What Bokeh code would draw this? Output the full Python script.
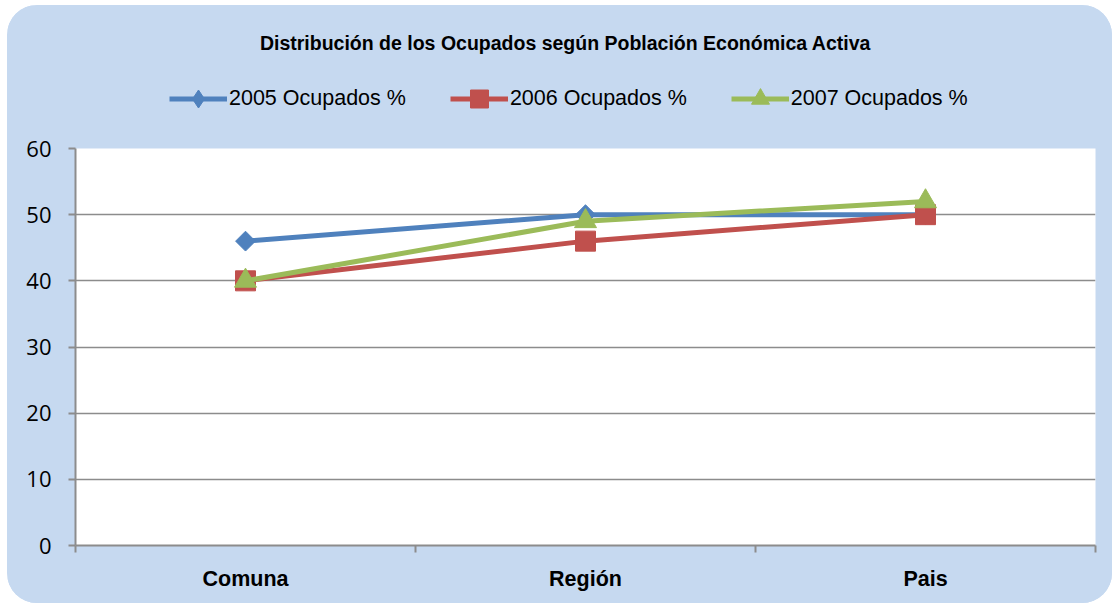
import math
from bokeh.plotting import figure
from bokeh.layouts import column
from bokeh.models import Legend, LegendItem, FixedTicker, Range1d, Label
from bokeh.embed import file_html
from bokeh.resources import INLINE

title_text = "Distribución de los Ocupados según Población Económica Activa"
categories = ["Comuna", "Región", "Pais"]
series_names = ["2005 Ocupados %", "2006 Ocupados %", "2007 Ocupados %"]
v2005 = [46, 50, 50]
v2006 = [40, 46, 50]
v2007 = [40, 49, 52]
y_ticks = [0, 10, 20, 30, 40, 50, 60]

BG = "#C6D9F0"
GRID = "#8C8C8C"
FONT = "Liberation Sans"
colors = ["#4F81BD", "#C0504D", "#9BBB59"]
markers = [("square", math.pi / 4, 14), ("square", 0, 20), ("triangle", 0, 22)]
legend_markers = ["diamond", "square", "triangle"]

W = 1105
HEAD_H = 120
MAIN_H = 478
FRAME_W = W - 68 - 17

xs = [i + 0.5 for i in range(len(categories))]
all_vals = [v2005, v2006, v2007]

# ---- header (title + legend) ----
h = figure(width=W, height=HEAD_H, output_backend="svg", toolbar_location=None,
           x_range=Range1d(0, FRAME_W), y_range=Range1d(0, HEAD_H),
           min_border_left=68, min_border_right=17,
           min_border_top=0, min_border_bottom=0)
h.extra_y_ranges = {"hidden": Range1d(1000, 1001)}
h.axis.visible = False
h.grid.visible = False
h.background_fill_color = BG
h.border_fill_color = BG
h.outline_line_color = None
h.add_layout(Label(x=490, y=83, text=title_text, text_align="center", text_baseline="middle",
                   text_font=FONT, text_font_size="19.5px", text_font_style="bold",
                   text_color="black"))
items = []
for name, vals, col, mk in zip(series_names, all_vals, colors, legend_markers):
    ln = h.line(xs, vals, line_color=col, line_width=5, y_range_name="hidden")
    sc = h.scatter(xs, vals, marker=mk, size=20, fill_color=col, line_color=col,
                   y_range_name="hidden")
    items.append(LegendItem(label=name, renderers=[ln, sc]))
legend = Legend(items=items, orientation="horizontal", location=(94, 4))
legend.background_fill_alpha = 0
legend.border_line_color = None
legend.label_text_font = FONT
legend.label_text_font_size = "21.5px"
legend.label_text_color = "black"
legend.glyph_width = 58
legend.glyph_height = 45
legend.label_standoff = 2
legend.spacing = 44
legend.padding = 0
legend.margin = 0
h.add_layout(legend, "center")

# ---- main chart ----
p = figure(width=W, height=MAIN_H, output_backend="svg", toolbar_location=None,
           x_range=Range1d(0, len(categories)), y_range=Range1d(0, 60),
           min_border_left=68, min_border_right=17, min_border_bottom=58, min_border_top=23)
p.background_fill_color = "white"
p.border_fill_color = BG
p.outline_line_color = None

p.yaxis.ticker = FixedTicker(ticks=y_ticks)
p.yaxis.axis_line_color = GRID
p.yaxis.axis_line_width = 2
p.yaxis.major_tick_line_color = GRID
p.yaxis.major_tick_line_width = 2
p.yaxis.major_tick_out = 7
p.yaxis.major_tick_in = 0
p.yaxis.minor_tick_line_color = None
p.yaxis.major_label_text_font = "Open Sans"
p.yaxis.major_label_text_font_size = "22px"
p.yaxis.major_label_text_color = "black"
p.yaxis.major_label_standoff = 17

p.xaxis.ticker = FixedTicker(ticks=xs, minor_ticks=list(range(len(categories) + 1)))
p.xaxis.major_label_overrides = {x: c for x, c in zip(xs, categories)}
p.xaxis.axis_line_color = GRID
p.xaxis.axis_line_width = 2
p.xaxis.major_tick_line_color = None
p.xaxis.minor_tick_line_color = GRID
p.xaxis.minor_tick_line_width = 2
p.xaxis.minor_tick_out = 7
p.xaxis.minor_tick_in = 0
p.xaxis.major_label_text_font = FONT
p.xaxis.major_label_text_font_size = "21.5px"
p.xaxis.major_label_text_font_style = "bold"
p.xaxis.major_label_text_color = "black"
p.xaxis.major_label_standoff = 14

p.xgrid.visible = False
p.ygrid.grid_line_color = GRID
p.ygrid.grid_line_width = 1.5

for vals, col, (mk, ang, sz) in zip(all_vals, colors, markers):
    p.line(xs, vals, line_color=col, line_width=5)
    p.scatter(xs, vals, marker=mk, angle=ang, size=sz, fill_color=col, line_color=col)

layout = column(h, p, spacing=0)
layout.margin = (5, 4, 3, 7)
layout.styles = {"border-radius": "30px", "overflow": "hidden", "background-color": BG}

open("out.html", "w").write(file_html(layout, INLINE))
